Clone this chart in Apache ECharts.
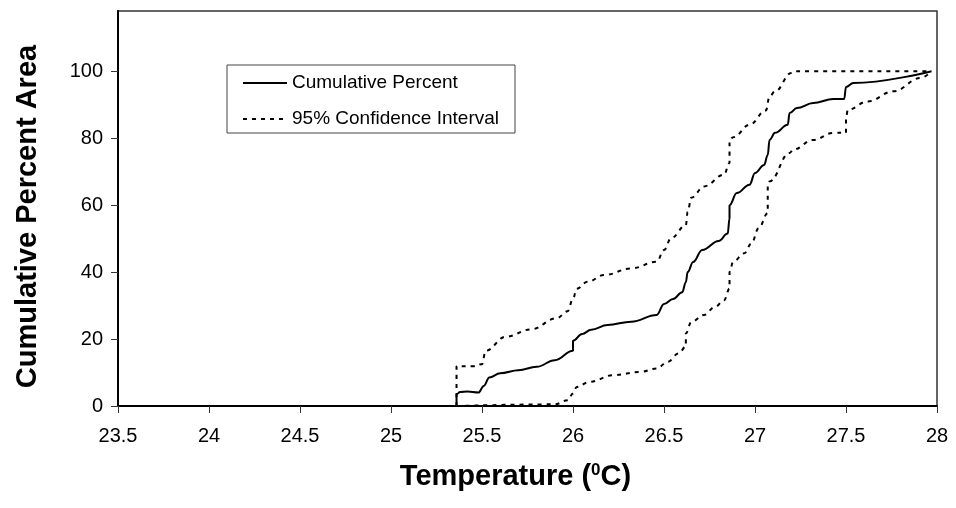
<!DOCTYPE html>
<html>
<head>
<meta charset="utf-8">
<script src="https://cdn.jsdelivr.net/npm/echarts@6/dist/echarts.min.js"></script>
<style>html,body{margin:0;padding:0;background:#fff}#c{width:956px;height:508px}</style>
</head>
<body>
<div id="c"></div>
<script>
// Data
const xTicks = [23.5, 24, 24.5, 25, 25.5, 26, 26.5, 27, 27.5, 28];
const yTicks = [0, 20, 40, 60, 80, 100];

const cumulative = [
  [25.36,0],[25.36,3.5],[25.38,4.2],[25.42,4.3],[25.48,4.0],[25.51,6],[25.54,8.5],[25.6,9.8],
  [25.7,10.7],[25.8,11.7],[25.9,13.7],[26.0,16.5],[26.0,19.5],[26.05,21.5],[26.1,22.8],
  [26.19,24.2],[26.32,25.2],[26.46,27.2],[26.5,30.5],[26.55,32],[26.6,34],[26.62,37],
  [26.63,40],[26.66,43],[26.71,46.6],[26.8,49.3],[26.85,51.5],[26.86,56],[26.86,60],
  [26.9,63.6],[26.97,66.1],[27.0,69.6],[27.05,72],[27.07,75],[27.08,79.5],[27.11,81.6],
  [27.18,84],[27.19,87.5],[27.23,89],[27.32,90.5],[27.43,91.7],[27.49,91.7],[27.5,95.3],
  [27.54,96.5],[27.97,100]
];

const upperCI = [
  [25.36,0],[25.36,11.9],[25.45,11.9],[25.5,12.5],[25.52,16.5],[25.63,20.7],[25.77,22.9],
  [25.91,26.2],[25.97,28.3],[26.0,32],[26.02,35],[26.08,37.1],[26.17,39.1],[26.32,41.1],
  [26.46,43.1],[26.5,46.6],[26.54,50.2],[26.62,54],[26.63,58],[26.65,62.2],[26.72,65.6],
  [26.83,69.1],[26.86,72.6],[26.86,79.5],[26.88,80.3],[26.97,84],[27.06,88.3],[27.08,92.5],
  [27.11,94],[27.2,99.5],[27.22,100],[27.97,100]
];

const lowerCI = [
  [25.36,0],[25.9,0.5],[25.97,1.7],[26.0,3.7],[26.02,5.7],[26.09,7.2],[26.22,9.2],[26.37,10.2],
  [26.46,11.2],[26.52,13.2],[26.58,15.7],[26.62,17.7],[26.62,21.7],[26.65,25.1],[26.72,27.2],
  [26.78,29.6],[26.83,31.6],[26.86,35.1],[26.86,40.1],[26.88,43.1],[26.94,45.6],[26.98,48.5],
  [27.02,53.1],[27.07,57.6],[27.07,66.1],[27.08,67.1],[27.19,75.6],[27.21,76.6],[27.32,79.5],
  [27.43,81.6],[27.5,81.6],[27.5,86],[27.51,88.5],[27.62,91],[27.76,94],[27.91,98],[27.97,100]
];

const FONT = "'Liberation Sans', Arial, sans-serif";
const chart = echarts.init(document.getElementById('c'));
const dashed = {color:'#000', width:2, type:[4,5]};
chart.setOption({
  animation:false,
  backgroundColor:'#fff',
  grid:{left:118, right:19, top:11, bottom:102, show:true, borderColor:'#333', borderWidth:1.5, backgroundColor:'transparent'},
  legend:{
    left:227, top:65, orient:'vertical',
    padding:[8,16,4,15], itemGap:16, itemWidth:44, itemHeight:14, itemTextGap:5,
    borderColor:'#444', borderWidth:1,
    itemStyle:{color:'transparent', borderColor:'transparent', borderWidth:0},
    textStyle:{fontFamily:FONT, fontSize:19, lineHeight:20, color:'#000'},
    data:['Cumulative Percent','95% Confidence Interval']
  },
  xAxis:{
    type:'value', min:23.5, max:28, interval:0.5,
    name:'Temperature ({s|0}C)', nameLocation:'middle', nameGap:56,
    nameTextStyle:{fontFamily:FONT, fontSize:29, fontWeight:'bold', color:'#000', padding:[0,24,0,0],
      rich:{s:{fontFamily:FONT, fontSize:17, fontWeight:'bold', color:'#000', verticalAlign:'top', padding:[0,0,13,0]}}},
    axisLine:{lineStyle:{color:'#000', width:2}},
    axisTick:{show:true, inside:false, length:7, lineStyle:{color:'#333', width:1}, customValues:xTicks},
    axisLabel:{fontFamily:FONT, fontSize:20, color:'#000', margin:20, customValues:xTicks,
      formatter:v=>String(v)},
    splitLine:{show:false}
  },
  yAxis:{
    type:'value', min:0, max:118, interval:20,
    name:'Cumulative Percent Area', nameLocation:'middle', nameGap:76,
    nameTextStyle:{fontFamily:FONT, fontSize:29, fontWeight:'bold', color:'#000', padding:[0,16,0,0]},
    axisLine:{show:true, lineStyle:{color:'#000', width:2}},
    axisTick:{show:true, length:7, lineStyle:{color:'#333', width:1}, customValues:yTicks},
    axisLabel:{fontFamily:FONT, fontSize:20, color:'#000', margin:15, customValues:yTicks},
    splitLine:{show:false}
  },
  series:[
    {name:'Cumulative Percent', type:'line', data:cumulative, symbol:'none', smooth:0.4, smoothMonotone:'x',
      lineStyle:{color:'#000', width:2}, itemStyle:{color:'#000'}, z:3},
    {name:'95% Confidence Interval', type:'line', data:upperCI, symbol:'none', smooth:0.4, smoothMonotone:'x',
      lineStyle:dashed, itemStyle:{color:'#000'}},
    {name:'95% Confidence Interval', type:'line', data:lowerCI, symbol:'none', smooth:0.4, smoothMonotone:'x',
      lineStyle:dashed, itemStyle:{color:'#000'}}
  ]
});
</script>
</body>
</html>
